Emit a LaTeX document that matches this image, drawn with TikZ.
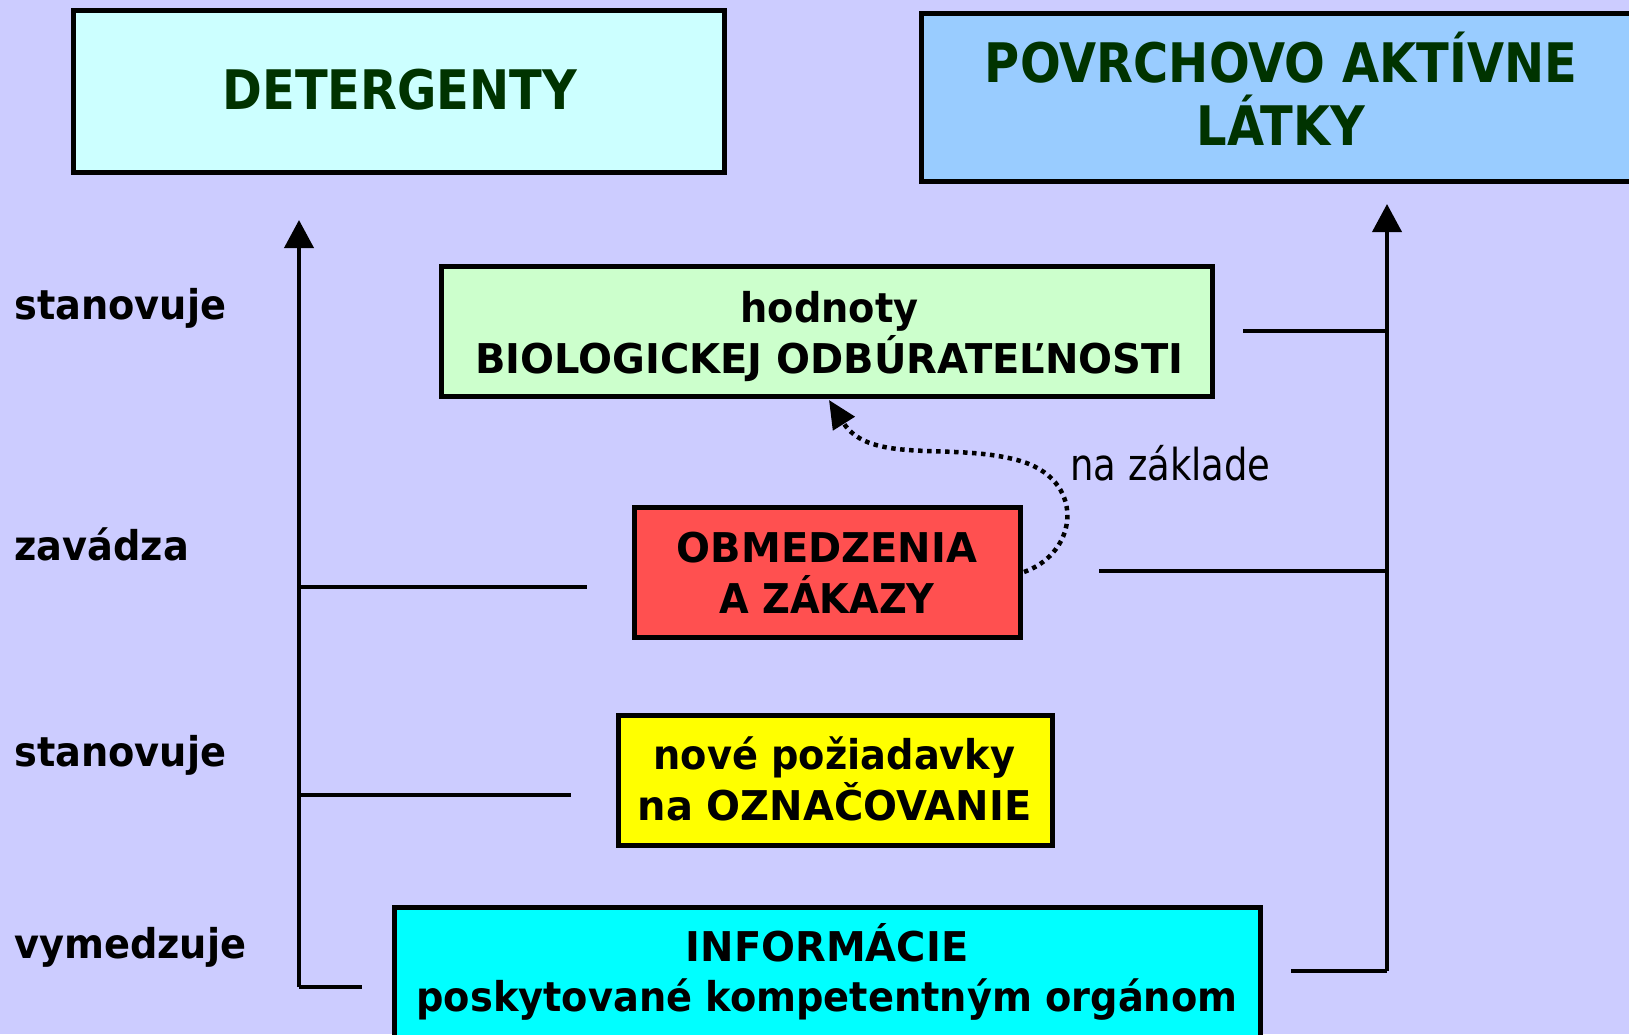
\documentclass[tikz,border=0pt]{standalone}
\usepackage{fontspec}
\usetikzlibrary{arrows.meta}
\newfontfamily\titlefont[FakeStretch=0.88]{DejaVu Sans}
\newfontfamily\bodyfont[FakeStretch=0.935]{DejaVu Sans}
\newfontfamily\capsfont[FakeStretch=0.975]{DejaVu Sans}
\newfontfamily\notefont[FakeStretch=0.84]{DejaVu Sans}
\definecolor{bgcol}{HTML}{CCCCFF}
\definecolor{detcol}{HTML}{CCFFFF}
\definecolor{palcol}{HTML}{99CCFF}
\definecolor{hodcol}{HTML}{CCFFCC}
\definecolor{obmcol}{HTML}{FF5050}
\definecolor{novcol}{HTML}{FFFF00}
\definecolor{infcol}{HTML}{00FFFF}
\definecolor{ttlcol}{HTML}{003300}
\begin{document}
\begin{tikzpicture}[x=1pt,y=-1pt,
  box/.style={draw=black, line width=5pt, inner sep=0pt, outer sep=0pt},
  ttl/.style={font=\titlefont\bfseries\fontsize{54.5}{64}\selectfont, text=ttlcol, inner sep=0pt, anchor=base},
  txt/.style={font=\bodyfont\bfseries\fontsize{41}{50}\selectfont, inner sep=0pt, anchor=base},
  ctxt/.style={font=\capsfont\bfseries\fontsize{41}{50}\selectfont, inner sep=0pt, anchor=base},
  lbl/.style={txt, anchor=base west},
  note/.style={font=\notefont\fontsize{44}{50}\selectfont, inner sep=0pt, anchor=base west},
  conn/.style={line width=4pt},
  arr/.style={conn, -{Triangle[length=28pt,width=29pt]}},
  dotarr/.style={line width=4.5pt, dash pattern=on 4.5pt off 4.5pt, -{Triangle[length=28pt,width=25pt]}}
]
\useasboundingbox (0,0) rectangle (1629,1034);
\fill[bgcol] (0,0) rectangle (1629,1034);

% boxes
\node[box, fill=detcol, minimum width=651pt, minimum height=162pt] (det) at (398.5,91) {};
\node[box, fill=palcol, minimum width=720pt, minimum height=168pt] (pal) at (1281,97) {};
\node[box, fill=hodcol, minimum width=771pt, minimum height=130pt] (hod) at (826.5,331) {};
\node[box, fill=obmcol, minimum width=386pt, minimum height=130pt] (obm) at (827,572) {};
\node[box, fill=novcol, minimum width=434pt, minimum height=130pt] (nov) at (835,780) {};
\node[box, fill=infcol, minimum width=866pt, minimum height=140pt] (inf) at (827,977) {};

% box texts
\node[ttl] (detT) at (400,109) {DETERGENTY};
\node[ttl] (palT1) at (1281,82) {POVRCHOVO AKTÍVNE};
\node[ttl] (palT2) at (1281,145) {LÁTKY};
\node[txt] (hodT1) at (829.5,322) {hodnoty};
\node[ctxt] (hodT2) at (829.5,373) {BIOLOGICKEJ ODBÚRATEĽNOSTI};
\node[ctxt] (obmT1) at (827,562) {OBMEDZENIA};
\node[txt] (obmT2) at (827,613) {A ZÁKAZY};
\node[txt] (novT1) at (834.5,769) {nové požiadavky};
\node[ctxt] (novT2) at (834.5,820) {na OZNAČOVANIE};
\node[ctxt] (infT1) at (827,961) {INFORMÁCIE};
\node[txt] (infT2) at (827,1011) {poskytované kompetentným orgánom};

% left labels
\node[lbl] (l1) at (14,319) {stanovuje};
\node[lbl] (l2) at (14,560) {zavádza};
\node[lbl] (l3) at (14,766) {stanovuje};
\node[lbl] (l4) at (14,958) {vymedzuje};

% note
\node[note] (zakl) at (1070,480) {na základe};

% left connector tree
\coordinate (Lbot) at (299,987);
\coordinate (Ltop) at (299,220);
\coordinate (Lb) at (362,987);
\coordinate (L2a) at (299,587);
\coordinate (L2b) at (587,587);
\coordinate (L3a) at (299,795);
\coordinate (L3b) at (571,795);
\draw[arr] (Lbot) -- (Ltop);
\draw[conn] (Lbot) -- (Lb);
\draw[conn] (L2a) -- (L2b);
\draw[conn] (L3a) -- (L3b);

% right connector tree
\coordinate (Rbot) at (1387,971);
\coordinate (Rtop) at (1387,204);
\coordinate (Rb) at (1291,971);
\coordinate (R1a) at (1243,331);
\coordinate (R1b) at (1387,331);
\coordinate (R2a) at (1099,571);
\coordinate (R2b) at (1387,571);
\draw[arr] (Rbot) -- (Rtop);
\draw[conn] (Rb) -- (Rbot);
\draw[conn] (R1a) -- (R1b);
\draw[conn] (R2a) -- (R2b);

% dotted arrow from OBMEDZENIA to BIOLOGICKEJ ODBURATELNOSTI
\coordinate (dS) at (1024,572);
\coordinate (dM) at (1017,460);
\coordinate (dE) at (829,400);
\draw[dotarr] (dS) .. controls (1080,552) and (1086,478) .. (dM)
  .. controls (950,442) and (870,465) .. (dE);
\end{tikzpicture}
\end{document}
